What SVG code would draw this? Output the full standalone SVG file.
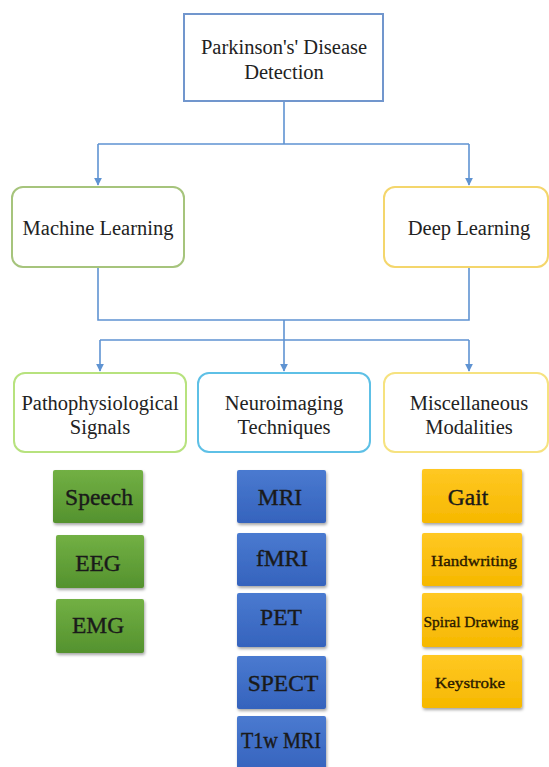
<svg xmlns="http://www.w3.org/2000/svg" width="549" height="767" viewBox="0 0 549 767">
<defs>
<style>
text{font-family:'Liberation Serif','DejaVu Serif',serif}
.t{fill:#222;text-anchor:middle}
.h{font-size:20.5px}
.b{font-size:23.5px;fill:#1a1a1a;stroke:#1a1a1a;stroke-width:0.4}
.s{font-size:15.5px;fill:#2a1a00;stroke:#2a1a00;stroke-width:0.35}
.con{fill:none;stroke:#5f93d2;stroke-width:1.6}
.green{fill:url(#gG);filter:url(#sh)}
.blue{fill:url(#gB);filter:url(#sh)}
.yel{fill:url(#gY);filter:url(#sh)}
</style>
<linearGradient id="gG" x1="0" y1="0" x2="0" y2="1"><stop offset="0" stop-color="#72b044"/><stop offset="1" stop-color="#54922e"/></linearGradient>
<linearGradient id="gB" x1="0" y1="0" x2="0" y2="1"><stop offset="0" stop-color="#4a7ad0"/><stop offset="1" stop-color="#3563bd"/></linearGradient>
<linearGradient id="gY" x1="0" y1="0" x2="0" y2="1"><stop offset="0" stop-color="#ffc823"/><stop offset="1" stop-color="#f6b800"/></linearGradient>
<filter id="sh" x="-10%" y="-10%" width="125%" height="130%"><feDropShadow dx="1" dy="2" stdDeviation="1.5" flood-color="#000" flood-opacity="0.35"/></filter>
<marker id="ar" viewBox="0 0 10 10" refX="9" refY="5" markerWidth="5" markerHeight="5" orient="auto"><path d="M0,0 L10,5 L0,10 z" fill="#5f93d2"/></marker>
</defs>
<rect width="549" height="767" fill="#fff"/>
<g id="connectors">
<path class="con" d="M284,101 V144 M98,144 H469"/>
<path class="con" d="M98,144 V185" marker-end="url(#ar)"/>
<path class="con" d="M469,144 V185" marker-end="url(#ar)"/>
<path class="con" d="M98,268 V320 H469 V268 M284,320 V340 M100,340 H469"/>
<path class="con" d="M100,340 V371" marker-end="url(#ar)"/>
<path class="con" d="M284,340 V371" marker-end="url(#ar)"/>
<path class="con" d="M469,340 V371" marker-end="url(#ar)"/>
</g>
<g font-family="Liberation Serif, DejaVu Serif, serif">
<g id="root"><rect x="184" y="14" width="199" height="87" fill="#fff" stroke="#7196cd" stroke-width="2"/>
<text class="t h" x="284" y="54">Parkinson's' Disease</text><text class="t h" x="284" y="79">Detection</text></g>
<g id="ml"><rect x="12" y="187" width="172" height="80" rx="11" fill="#fff" stroke="#a6c47c" stroke-width="2"/><text class="t h" x="98" y="235">Machine Learning</text></g>
<g id="dl"><rect x="384" y="187" width="164" height="80" rx="11" fill="#fff" stroke="#f4d66c" stroke-width="2"/><text class="t h" x="469" y="235">Deep Learning</text></g>
<g id="patho"><rect x="14" y="373" width="172" height="79" rx="11" fill="#fff" stroke="#b7e27e" stroke-width="2"/><text class="t h" x="100" y="410">Pathophysiological</text><text class="t h" x="100" y="434">Signals</text></g>
<g id="neuro"><rect x="198" y="373" width="172" height="79" rx="11" fill="#fff" stroke="#5ec0e6" stroke-width="2"/><text class="t h" x="284" y="410">Neuroimaging</text><text class="t h" x="284" y="434">Techniques</text></g>
<g id="misc"><rect x="384" y="373" width="164" height="79" rx="11" fill="#fff" stroke="#f6e27f" stroke-width="2"/><text class="t h" x="469" y="410">Miscellaneous</text><text class="t h" x="469" y="434">Modalities</text></g>
<g id="speech"><rect class="green" x="53" y="470" width="90" height="53" rx="2"/><text class="t b" x="99" y="505">Speech</text></g>
<g id="eeg"><rect class="green" x="56" y="535" width="88" height="53" rx="2"/><text class="t b" x="98" y="571">EEG</text></g>
<g id="emg"><rect class="green" x="56" y="599" width="88" height="54" rx="2"/><text class="t b" x="98" y="633">EMG</text></g>
<g id="mri"><rect class="blue" x="237" y="470" width="89" height="53" rx="2"/><text class="t b" x="280" y="505">MRI</text></g>
<g id="fmri"><rect class="blue" x="237" y="533" width="89" height="53" rx="2"/><text class="t b" x="282" y="566">fMRI</text></g>
<g id="pet"><rect class="blue" x="237" y="593" width="89" height="54" rx="2"/><text class="t b" x="281" y="625">PET</text></g>
<g id="spect"><rect class="blue" x="237" y="656" width="89" height="53" rx="2"/><text class="t b" x="283" y="691">SPECT</text></g>
<g id="t1w"><rect class="blue" x="237" y="716" width="89" height="56" rx="2"/><text class="t b" x="281" y="748" textLength="80" lengthAdjust="spacingAndGlyphs">T1w MRI</text></g>
<g id="gait"><rect class="yel" x="422" y="469" width="100" height="54" rx="2"/><text class="t b" x="468" y="505">Gait</text></g>
<g id="hand"><rect class="yel" x="422" y="533" width="100" height="53" rx="2"/><text class="t s" x="474" y="566" textLength="86" lengthAdjust="spacingAndGlyphs">Handwriting</text></g>
<g id="spiral"><rect class="yel" x="422" y="593" width="100" height="54" rx="2"/><text class="t s" x="471" y="627" textLength="95" lengthAdjust="spacingAndGlyphs">Spiral Drawing</text></g>
<g id="key"><rect class="yel" x="422" y="655" width="100" height="53" rx="2"/><text class="t s" x="470" y="688" textLength="70" lengthAdjust="spacingAndGlyphs">Keystroke</text></g>
</g>
</svg>
